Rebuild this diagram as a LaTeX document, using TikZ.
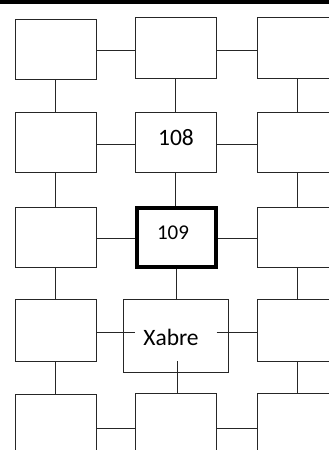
\documentclass[tikz,border=0pt]{standalone}
\usepackage{fontspec}
\setmainfont{Carlito}
\begin{document}
\begin{tikzpicture}[x=1pt,y=-1pt,
  box/.style={draw=black!85,line width=1pt,minimum width=81pt,minimum height=60pt,inner sep=0pt},
  thickbox/.style={draw=black,line width=4pt,minimum width=79pt,minimum height=59pt,inner sep=0pt},
  link/.style={draw=black!85,line width=1pt},
  bigtext/.style={font=\fontsize{23.5}{28}\selectfont,inner sep=0pt},
  midtext/.style={font=\fontsize{21}{25}\selectfont,inner sep=0pt}]
\clip (0,0) rectangle (329,450);
\fill[black] (0,0) rectangle (329,4);
% row 1
\node[box,minimum height=60pt] (a11) at (55.5,49) {};
\node[box,minimum height=61pt] (a12) at (175.5,47.5) {};
\node[box,minimum height=61pt] (a13) at (297.5,47.5) {};
% row 2
\node[box] (a21) at (55.5,142) {};
\node[box] (a22) at (175.5,142) {};
\node[bigtext] (t22) at (176,138) {108};
\node[box] (a23) at (297.5,142) {};
% row 3
\node[box] (a31) at (55.5,237) {};
\node[thickbox] (a32) at (176,237) {};
\node[midtext] (t32) at (173,233) {109};
\node[box] (a33) at (297.5,237) {};
% row 4
\node[box,minimum height=62pt] (a41) at (55.5,330) {};
\node[box,minimum width=105pt,minimum height=73pt] (xb) at (175.5,335.5) {};
\node[bigtext] (xt) at (171,337) {Xabre};
\node[box,minimum height=62pt] (a43) at (297.5,330) {};
\coordinate (p4w) at (135,332);
\coordinate (p4e) at (216.5,332);
\coordinate (p4s) at (177,361);
% row 5
\node[box] (a51) at (55.5,424) {};
\node[box] (a52) at (175.5,423) {};
\node[box] (a53) at (297.5,423) {};
% horizontal connectors
\draw[link] ([yshift=-1pt]a11.east) -- ([yshift=-1pt]a11.east -| a12.west);
\draw[link] ([yshift=-2.5pt]a12.east) -- ([yshift=-2.5pt]a12.east -| a13.west);
\draw[link] ([yshift=-2pt]a21.east) -- ([yshift=-2pt]a21.east -| a22.west);
\draw[link] ([yshift=-2pt]a22.east) -- ([yshift=-2pt]a22.east -| a23.west);
\draw[link] ([yshift=-1pt]a31.east) -- ([yshift=-1pt]a31.east -| a32.west);
\draw[link] ([yshift=-1pt]a32.east) -- ([yshift=-1pt]a32.east -| a33.west);
\draw[link] (a41.east |- p4w) -- (p4w);
\draw[link] (p4e) -- (p4e -| a43.west);
\draw[link] ([yshift=-4pt]a51.east) -- ([yshift=-4pt]a51.east -| a52.west);
\draw[link] ([yshift=-5pt]a52.east) -- ([yshift=-5pt]a52.east -| a53.west);
% vertical connectors
\draw[link] (a11.south) -- (a11.south |- a21.north);
\draw[link] (a21.south) -- (a21.south |- a31.north);
\draw[link] (a31.south) -- (a31.south |- a41.north);
\draw[link] (a41.south) -- (a41.south |- a51.north);
\draw[link] (a12.south) -- (a12.south |- a22.north);
\draw[link] (a22.south) -- (a22.south |- a32.north);
\draw[link] (a32.south) -- (a32.south |- xb.north);
\draw[link] (p4s) -- (p4s |- a52.north);
\draw[link] (a13.south) -- (a13.south |- a23.north);
\draw[link] (a23.south) -- (a23.south |- a33.north);
\draw[link] (a33.south) -- (a33.south |- a43.north);
\draw[link] (a43.south) -- (a43.south |- a53.north);
\end{tikzpicture}
\end{document}
